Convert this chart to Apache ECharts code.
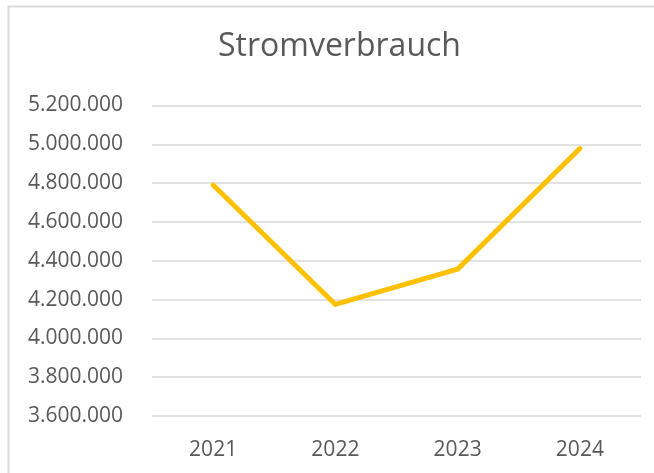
<!DOCTYPE html>
<html>
<head>
<meta charset="utf-8">
<script src="https://cdn.jsdelivr.net/npm/echarts@6/dist/echarts.min.js"></script>
<style>
html,body{margin:0;padding:0;background:#fff;}
#chart{width:654px;height:473px;}
</style>
</head>
<body>
<div id="chart"></div>
<script>
const titleText = 'Stromverbrauch';
const categories = ['2021', '2022', '2023', '2024'];
const values = [4790000, 4175000, 4357000, 4978000];
const yMin = 3600000;
const yMax = 5200000;
const yStep = 200000;

function fmt(v) {
  return String(Math.round(v)).replace(/\B(?=(\d{3})+(?!\d))/g, '.');
}

const chart = echarts.init(document.getElementById('chart'), null, {renderer: 'canvas'});
chart.setOption({
  animation: false,
  backgroundColor: '#ffffff',
  textStyle: {fontFamily: 'Open Sans'},
  title: {
    text: titleText,
    left: 218,
    top: 31,
    padding: 0,
    textStyle: {fontFamily: 'Open Sans', fontSize: 32, fontWeight: 'normal', color: '#595959'}
  },
  graphic: [
    {type: 'line', shape: {x1: 8.5, y1: 6, x2: 8.5, y2: 473}, style: {stroke: '#d9d9d9', lineWidth: 2}},
    {type: 'line', shape: {x1: 8, y1: 6.5, x2: 654, y2: 6.5}, style: {stroke: '#d9d9d9', lineWidth: 2}}
  ],
  grid: {left: 152, right: 13, top: 105.5, bottom: 57, containLabel: false},
  xAxis: {
    type: 'category',
    data: categories,
    boundaryGap: true,
    axisLine: {show: false},
    axisTick: {show: false},
    axisLabel: {fontFamily: 'Open Sans', fontSize: 21, color: '#595959', margin: 24}
  },
  yAxis: {
    type: 'value',
    min: yMin,
    max: yMax,
    interval: yStep,
    axisLine: {show: false},
    axisTick: {show: false},
    splitLine: {lineStyle: {color: '#d9d9d9', width: 1.5}},
    axisLabel: {fontFamily: 'Open Sans', fontSize: 21, color: '#595959', margin: 29, formatter: fmt}
  },
  series: [{
    type: 'line',
    data: values,
    showSymbol: false,
    symbol: 'none',
    lineStyle: {color: '#FFC000', width: 5, cap: 'round', join: 'round'},
    itemStyle: {color: '#FFC000'}
  }]
});
</script>
</body>
</html>
